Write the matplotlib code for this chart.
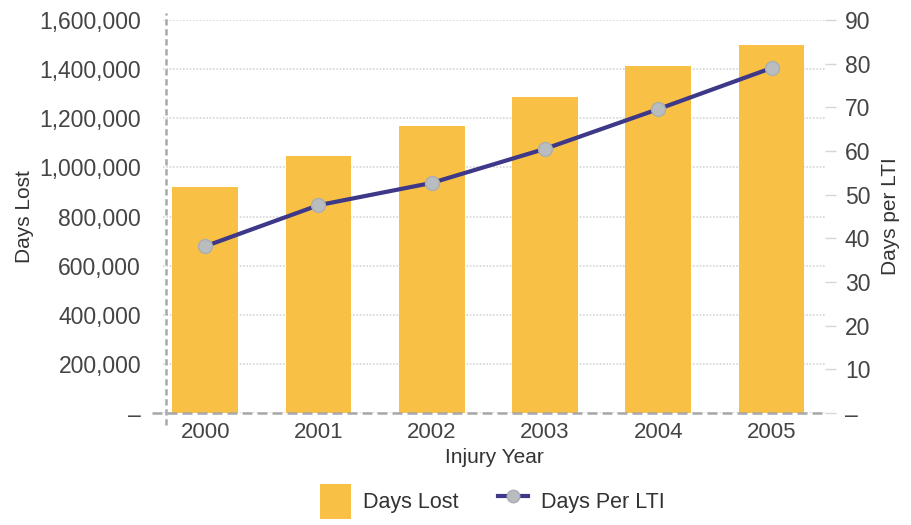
import matplotlib
matplotlib.use("Agg")
import matplotlib.pyplot as plt
from matplotlib.ticker import FuncFormatter, MultipleLocator
from matplotlib.lines import Line2D
from matplotlib.patches import Patch

plt.rcParams['font.family'] = ['Liberation Sans', 'DejaVu Sans']

years = ["2000", "2001", "2002", "2003", "2004", "2005"]
days_lost = [920000, 1046000, 1169000, 1287000, 1413000, 1498000]
days_per_lti = [38.2, 47.6, 52.7, 60.5, 69.6, 79.0]

barColor = "#F8C045"
lineColor = "#3D3888"
markerColor = "#B9BDBF"
textColor = "#444444"
gridColor = "#D6D6D6"

fig = plt.figure(figsize=(9.12, 5.25), dpi=100)
ax = fig.add_axes([0.179, 0.213, 0.726, 0.749])
ax2 = ax.twinx()

x = list(range(len(years)))
ax.bar(x, days_lost, width=0.58, color=barColor, zorder=2)
ax.set_xlim(-0.37, 5.475)
ax.set_ylim(0, 1600000)
ax.yaxis.set_major_locator(MultipleLocator(200000))
ax.yaxis.set_major_formatter(FuncFormatter(lambda v, p: "\u2013" if v == 0 else "{:,.0f}".format(v)))
ax.grid(axis='y', color=gridColor, linestyle=(0, (1, 1)), linewidth=1.2, zorder=1)
ax.set_axisbelow(True)
ax.set_xticks(x)
ax.set_xticklabels(years)

for s in ['top', 'right', 'bottom', 'left']:
    ax.spines[s].set_visible(False)
    ax2.spines[s].set_visible(False)

# dashed axis lines
ax.plot([-0.35, -0.35], [-50000, 1630000], color="#A8A8A8", linestyle=(0, (2.5, 1.5)),
        linewidth=1.8, clip_on=False, zorder=4)
ax.plot([-0.47, 5.475], [0, 0], color="#A8A8A8", linestyle=(0, (4, 2)),
        linewidth=1.8, clip_on=False, zorder=4)

ax.tick_params(axis='y', length=0, pad=16, labelsize=16.5, labelcolor=textColor)
ax.tick_params(axis='x', length=0, pad=6, labelsize=16, labelcolor=textColor)
ax.set_ylabel("Days Lost", fontsize=15, color="#333333", labelpad=4)
ax.set_xlabel("Injury Year", fontsize=15, color="#333333", labelpad=4)

ax2.plot(x, days_per_lti, color=lineColor, linewidth=3, marker='o', markersize=10,
         markerfacecolor=markerColor, markeredgecolor="#A9AEB1", markeredgewidth=1, zorder=5)
ax2.set_ylim(0, 90)
ax2.yaxis.set_major_locator(MultipleLocator(10))
ax2.yaxis.set_major_formatter(FuncFormatter(lambda v, p: "\u2013" if v == 0 else "{:.0f}".format(v)))
ax2.tick_params(axis='y', length=8, width=1, color="#D6D6D6", pad=6, labelsize=16.5, labelcolor=textColor)
ax2.set_ylabel("Days per LTI", fontsize=15, color="#333333", labelpad=8)

handles = [Patch(facecolor=barColor, edgecolor='none'),
           Line2D([0], [0], color=lineColor, linewidth=3, marker='o', markersize=9,
                  markerfacecolor=markerColor, markeredgecolor="#A9AEB1")]
fig.legend(handles, ["Days Lost", "Days Per LTI"], loc='lower center', bbox_to_anchor=(0.54, -0.025),
           ncol=2, frameon=False, fontsize=15.5, handlelength=1.4, handleheight=2.1,
           columnspacing=1.8, handletextpad=0.6, labelcolor="#333333")

fig.savefig("out.png", dpi=100)
